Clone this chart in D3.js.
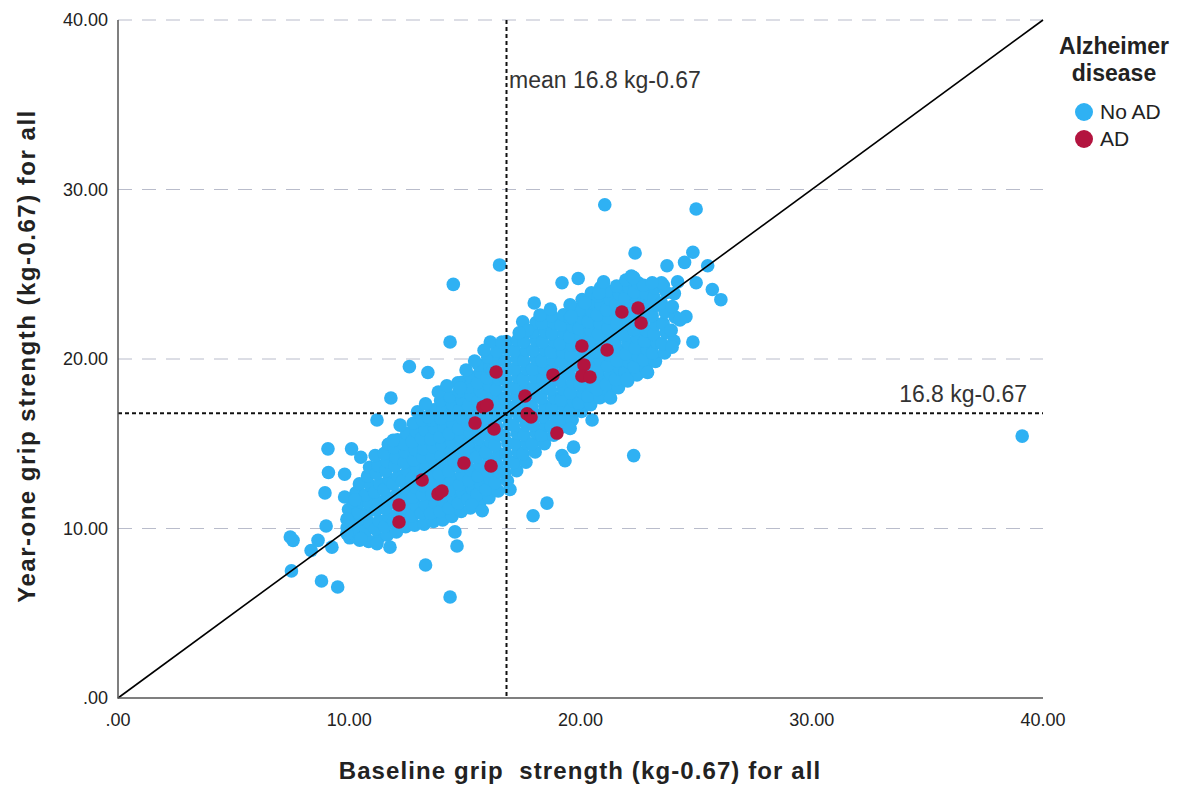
<!DOCTYPE html>
<html>
<head>
<meta charset="utf-8">
<script src="https://cdn.jsdelivr.net/npm/d3@7.9.0/dist/d3.min.js"></script>
<style>
  body { margin: 0; background: #fff; }
  svg { font-family: "Liberation Sans", Arial, sans-serif; }
</style>
</head>
<body>
<svg id="chart" width="1194" height="785"></svg>
<script>
// Tick values and labels
const ticks = [0, 10, 20, 30, 40];
const tickLabels = ['.00', '10.00', '20.00', '30.00', '40.00'];
const meanValue = 16.8;

// No AD participants [baseline, year-one]
const noAdOutliers = [
  [39.1, 15.45], [21.05, 29.1], [25.0, 28.85], [16.5, 25.55], [14.5, 24.4], [22.36, 26.25],
  [24.86, 26.3], [23.74, 25.5], [24.5, 25.7], [25.5, 25.5], [25.7, 24.1], [26.07, 23.5],
  [25.0, 24.5], [24.2, 24.55], [24.86, 21.0], [23.96, 20.7], [24.56, 22.5], [24.3, 22.3],
  [22.2, 24.9], [23.5, 24.5], [19.2, 24.5], [19.9, 24.75], [19.55, 23.2], [20.2, 23.3],
  [19.6, 22.5], [18.0, 23.3], [18.25, 22.6], [17.5, 22.2], [14.36, 21.0], [12.6, 19.55],
  [13.4, 19.2], [16.1, 21.0], [16.6, 21.0], [21.3, 17.7], [11.8, 17.7], [11.2, 16.4],
  [12.2, 16.1], [14.7, 18.6], [22.3, 14.3], [20.5, 16.4], [19.7, 14.8], [19.2, 14.3],
  [19.55, 15.9], [22.9, 19.2], [22.0, 18.8], [18.55, 11.5], [17.95, 10.75], [14.57, 9.8],
  [14.66, 8.97], [13.3, 7.85], [14.36, 5.96], [8.8, 6.9], [9.5, 6.55], [7.5, 7.5],
  [7.57, 9.3], [7.45, 9.5], [8.35, 8.7], [8.65, 9.3], [9.25, 8.9], [9.0, 10.15],
  [9.9, 10.55], [9.9, 9.7], [10.5, 9.4], [11.2, 9.1], [11.76, 8.9], [9.08, 14.7],
  [10.1, 14.7], [9.1, 13.3], [9.8, 13.2], [8.95, 12.1], [9.8, 11.86], [10.25, 11.7],
  [15.3, 11.4], [19.33, 14.0], [17.7, 21.7], [20.8, 23.9], [22.3, 24.8], [23.1, 24.5],
  [16.2, 19.3], [14.8, 18.3], [13.4, 16.6], [11.9, 15.2], [10.5, 14.2],
  [13.85, 18.05], [14.22, 18.42], [15.05, 19.35], [15.42, 19.88], [15.83, 20.52], [12.95, 16.88],
  [13.3, 17.35], [17.35, 21.55], [18.7, 22.95], [21.0, 24.55], [16.95, 12.3], [15.75, 11.05]
];

const noAdLow = [
  [10.02, 9.45], [9.91, 10.06], [10.11, 10.51], [9.97, 11.12], [10.16, 11.58],
  [10.45, 9.31], [10.33, 9.82], [10.51, 10.49], [10.38, 10.93], [10.47, 11.57], [10.29, 12.11], [10.44, 12.63],
  [10.84, 9.24], [10.72, 9.88], [10.91, 10.31], [10.77, 10.92], [10.86, 11.47], [10.7, 11.98], [10.93, 12.52], [10.79, 13.09], [10.88, 13.61],
  [11.25, 9.39], [11.13, 9.97], [11.3, 10.44], [11.16, 11.08], [11.27, 11.57], [11.1, 12.14], [11.32, 12.62], [11.18, 13.25], [11.24, 13.72], [11.12, 14.31],
  [11.64, 9.61], [11.53, 10.12], [11.7, 10.73], [11.57, 11.19], [11.66, 11.82], [11.5, 12.29], [11.72, 12.91], [11.58, 13.41], [11.63, 13.96], [11.52, 14.43], [11.69, 14.97],
  [12.04, 9.79], [11.92, 10.41], [12.1, 10.9], [11.97, 11.51], [12.06, 12.0], [11.9, 12.62], [12.12, 13.09], [11.98, 13.71], [12.03, 14.19], [11.93, 14.78], [12.09, 15.24],
  [12.44, 10.11], [12.32, 10.6], [12.5, 11.21], [12.37, 11.69], [12.46, 12.31], [12.3, 12.8], [12.52, 13.41], [12.38, 13.89], [12.43, 14.51], [12.33, 15.0], [12.49, 15.61],
  [12.83, 10.2], [12.71, 10.74], [12.9, 11.35], [12.76, 11.84], [12.86, 12.46], [12.7, 12.95], [12.92, 13.56], [12.78, 14.04], [12.84, 14.67], [12.73, 15.14], [12.89, 15.76], [12.77, 16.21],
  [13.24, 10.25], [13.12, 10.9], [13.3, 11.39], [13.17, 12.01], [13.26, 12.49], [13.1, 13.12], [13.32, 13.6], [13.18, 14.21], [13.23, 14.69], [13.13, 15.32], [13.29, 15.8], [13.16, 16.41],
  [13.64, 10.41], [13.52, 10.9], [13.7, 11.52], [13.57, 12.0], [13.66, 12.62], [13.5, 13.09], [13.72, 13.71], [13.58, 14.2], [13.63, 14.82], [13.53, 15.29], [13.69, 15.92], [13.56, 16.39], [13.67, 17.01]
];

const noAdMid = [
  [14.04, 10.5], [13.92, 11.0], [14.1, 11.62], [13.97, 12.1], [14.06, 12.71], [13.9, 13.19], [14.12, 13.81], [13.98, 14.29], [14.03, 14.92], [13.93, 15.4], [14.09, 16.01], [13.96, 16.49], [14.07, 17.12], [13.95, 17.55],
  [14.44, 10.71], [14.32, 11.2], [14.5, 11.81], [14.37, 12.29], [14.46, 12.92], [14.3, 13.39], [14.52, 14.01], [14.38, 14.5], [14.43, 15.11], [14.33, 15.59], [14.49, 16.21], [14.36, 16.69], [14.47, 17.31], [14.35, 17.79],
  [14.84, 11.0], [14.72, 11.49], [14.9, 12.11], [14.77, 12.59], [14.86, 13.21], [14.7, 13.69], [14.92, 14.31], [14.78, 14.79], [14.83, 15.41], [14.73, 15.89], [14.89, 16.51], [14.76, 16.99], [14.87, 17.61], [14.75, 18.09], [14.88, 18.63],
  [15.24, 11.21], [15.12, 11.74], [15.3, 12.36], [15.17, 12.84], [15.26, 13.46], [15.1, 13.94], [15.32, 14.56], [15.18, 15.04], [15.23, 15.66], [15.13, 16.14], [15.29, 16.76], [15.16, 17.24], [15.27, 17.86], [15.15, 18.34], [15.28, 18.95],
  [15.64, 11.51], [15.52, 12.0], [15.7, 12.62], [15.57, 13.1], [15.66, 13.72], [15.5, 14.2], [15.72, 14.82], [15.58, 15.3], [15.63, 15.92], [15.53, 16.4], [15.69, 17.02], [15.56, 17.5], [15.67, 18.12], [15.55, 18.6], [15.68, 19.22], [15.6, 19.65],
  [16.04, 11.81], [15.92, 12.3], [16.1, 12.92], [15.97, 13.4], [16.06, 14.02], [15.9, 14.5], [16.12, 15.12], [15.98, 15.6], [16.03, 16.22], [15.93, 16.7], [16.09, 17.32], [15.96, 17.8], [16.07, 18.42], [15.95, 18.9], [16.08, 19.52], [15.99, 20.11],
  [16.44, 12.21], [16.32, 12.7], [16.5, 13.32], [16.37, 13.8], [16.46, 14.42], [16.3, 14.9], [16.52, 15.52], [16.38, 16.0], [16.43, 16.62], [16.33, 17.1], [16.49, 17.72], [16.36, 18.2], [16.47, 18.82], [16.35, 19.3], [16.48, 19.92], [16.39, 20.46],
  [16.84, 12.81], [16.72, 13.3], [16.9, 13.92], [16.77, 14.4], [16.86, 15.02], [16.7, 15.5], [16.92, 16.12], [16.78, 16.6], [16.83, 17.22], [16.73, 17.7], [16.89, 18.32], [16.76, 18.8], [16.87, 19.42], [16.75, 19.9], [16.88, 20.52], [16.79, 21.03],
  [17.24, 13.41], [17.12, 13.9], [17.3, 14.52], [17.17, 15.0], [17.26, 15.62], [17.1, 16.1], [17.32, 16.72], [17.18, 17.2], [17.23, 17.82], [17.13, 18.3], [17.29, 18.92], [17.16, 19.4], [17.27, 20.02], [17.15, 20.5], [17.28, 21.11],
  [17.64, 13.91], [17.52, 14.4], [17.7, 15.02], [17.57, 15.5], [17.66, 16.12], [17.5, 16.6], [17.72, 17.22], [17.58, 17.7], [17.63, 18.32], [17.53, 18.8], [17.69, 19.42], [17.56, 19.9], [17.67, 20.52], [17.55, 21.0], [17.68, 21.61],
  [18.04, 14.51], [17.92, 15.0], [18.1, 15.62], [17.97, 16.1], [18.06, 16.72], [17.9, 17.2], [18.12, 17.82], [17.98, 18.3], [18.03, 18.92], [17.93, 19.4], [18.09, 20.02], [17.96, 20.5], [18.07, 21.12], [17.95, 21.6], [18.08, 22.15],
  [18.44, 15.01], [18.32, 15.5], [18.5, 16.12], [18.37, 16.6], [18.46, 17.22], [18.3, 17.7], [18.52, 18.32], [18.38, 18.8], [18.43, 19.42], [18.33, 19.9], [18.49, 20.52], [18.36, 21.0], [18.47, 21.62], [18.35, 22.13],
  [18.84, 15.51], [18.72, 16.0], [18.9, 16.62], [18.77, 17.1], [18.86, 17.72], [18.7, 18.2], [18.92, 18.82], [18.78, 19.3], [18.83, 19.92], [18.73, 20.4], [18.89, 21.02], [18.76, 21.5], [18.87, 22.12], [18.75, 22.55]
];

const noAdHigh = [
  [19.24, 16.01], [19.12, 16.5], [19.3, 17.12], [19.17, 17.6], [19.26, 18.22], [19.1, 18.7], [19.32, 19.32], [19.18, 19.8], [19.23, 20.42], [19.13, 20.9], [19.29, 21.52], [19.16, 22.0], [19.27, 22.61],
  [19.64, 16.41], [19.52, 16.9], [19.7, 17.52], [19.57, 18.0], [19.66, 18.62], [19.5, 19.1], [19.72, 19.72], [19.58, 20.2], [19.63, 20.82], [19.53, 21.3], [19.69, 21.92], [19.56, 22.4], [19.67, 23.01],
  [20.04, 16.91], [19.92, 17.4], [20.1, 18.02], [19.97, 18.5], [20.06, 19.12], [19.9, 19.6], [20.12, 20.22], [19.98, 20.7], [20.03, 21.32], [19.93, 21.8], [20.09, 22.42], [19.96, 22.9], [20.07, 23.51],
  [20.44, 17.31], [20.32, 17.8], [20.5, 18.42], [20.37, 18.9], [20.46, 19.52], [20.3, 20.0], [20.52, 20.62], [20.38, 21.1], [20.43, 21.72], [20.33, 22.2], [20.49, 22.82], [20.36, 23.3], [20.47, 23.91],
  [20.84, 17.71], [20.72, 18.2], [20.9, 18.82], [20.77, 19.3], [20.86, 19.92], [20.7, 20.4], [20.92, 21.02], [20.78, 21.5], [20.83, 22.12], [20.73, 22.6], [20.89, 23.22], [20.76, 23.7], [20.87, 24.21],
  [21.24, 18.01], [21.12, 18.5], [21.3, 19.12], [21.17, 19.6], [21.26, 20.22], [21.1, 20.7], [21.32, 21.32], [21.18, 21.8], [21.23, 22.42], [21.13, 22.9], [21.29, 23.52], [21.16, 24.0],
  [21.64, 18.31], [21.52, 18.8], [21.7, 19.42], [21.57, 19.9], [21.66, 20.52], [21.5, 21.0], [21.72, 21.62], [21.58, 22.1], [21.63, 22.72], [21.53, 23.2], [21.69, 23.82], [21.56, 24.3],
  [22.04, 18.71], [21.92, 19.2], [22.1, 19.82], [21.97, 20.3], [22.06, 20.92], [21.9, 21.4], [22.12, 22.02], [21.98, 22.5], [22.03, 23.12], [21.93, 23.6], [22.09, 24.22], [21.96, 24.66],
  [22.44, 19.06], [22.32, 19.55], [22.5, 20.17], [22.37, 20.65], [22.46, 21.27], [22.3, 21.75], [22.52, 22.37], [22.38, 22.85], [22.43, 23.47], [22.33, 23.95], [22.49, 24.5],
  [22.84, 19.46], [22.72, 19.95], [22.9, 20.57], [22.77, 21.05], [22.86, 21.67], [22.7, 22.15], [22.92, 22.77], [22.78, 23.25], [22.83, 23.87], [22.73, 24.35],
  [23.24, 19.86], [23.12, 20.35], [23.3, 20.97], [23.17, 21.45], [23.26, 22.07], [23.1, 22.55], [23.32, 23.17], [23.18, 23.65], [23.23, 24.2],
  [23.64, 20.36], [23.52, 20.9], [23.7, 21.57], [23.57, 22.1], [23.66, 22.77], [23.5, 23.3], [23.72, 23.92], [23.58, 24.35],
  [24.04, 21.06], [23.92, 21.7], [24.1, 22.47], [23.97, 23.1], [24.06, 23.86]
];

// AD participants [baseline, year-one]
const adPoints = [
  [12.15, 11.39], [12.15, 10.38], [13.15, 12.86], [13.84, 12.04], [14.01, 12.21], [14.96, 13.86],
  [16.13, 13.69], [15.44, 16.22], [16.26, 15.87], [15.78, 17.17], [15.96, 17.29], [16.35, 19.23],
  [17.6, 17.82], [17.69, 16.76], [17.86, 16.58], [18.98, 15.63], [18.81, 19.06], [20.06, 20.77],
  [21.15, 20.53], [20.15, 19.65], [20.06, 19.0], [20.41, 18.94], [21.79, 22.77], [22.49, 23.01],
  [22.62, 22.12]
];

const legendItems = [
  { label: 'No AD', color: '#2fb1f3' },
  { label: 'AD', color: '#b3143f' }
];

const svg = d3.select('#chart');
const plotLeft = 118, plotRight = 1043, plotTop = 20, plotBottom = 698;
const dotRadius = 6.8;

const x = d3.scaleLinear().domain([0, 40]).range([plotLeft, plotRight]);
const y = d3.scaleLinear().domain([0, 40]).range([plotBottom, plotTop]);

// Dashed reference gridlines
svg.append('g')
  .selectAll('line')
  .data(ticks.slice(1))
  .join('line')
  .attr('x1', plotLeft)
  .attr('x2', plotRight)
  .attr('y1', d => y(d))
  .attr('y2', d => y(d))
  .attr('stroke', '#b9bccb')
  .attr('stroke-width', 1)
  .attr('stroke-dasharray', '14,10');

// Points
const blue = legendItems[0].color, red = legendItems[1].color;
const allNoAd = [...noAdLow, ...noAdMid, ...noAdHigh, ...noAdOutliers];

svg.append('g')
  .selectAll('circle')
  .data(allNoAd)
  .join('circle')
  .attr('cx', d => x(d[0]))
  .attr('cy', d => y(d[1]))
  .attr('r', dotRadius)
  .attr('fill', blue);

svg.append('g')
  .selectAll('circle')
  .data(adPoints)
  .join('circle')
  .attr('cx', d => x(d[0]))
  .attr('cy', d => y(d[1]))
  .attr('r', dotRadius)
  .attr('fill', red);

// Mean lines
svg.append('line')
  .attr('x1', x(meanValue)).attr('x2', x(meanValue))
  .attr('y1', plotTop).attr('y2', plotBottom)
  .attr('stroke', '#111').attr('stroke-width', 2)
  .attr('stroke-dasharray', '4,3');

svg.append('line')
  .attr('x1', plotLeft).attr('x2', plotRight)
  .attr('y1', y(meanValue)).attr('y2', y(meanValue))
  .attr('stroke', '#111').attr('stroke-width', 2)
  .attr('stroke-dasharray', '4,3');

// Identity line
svg.append('line')
  .attr('x1', x(0)).attr('y1', y(0))
  .attr('x2', x(40)).attr('y2', y(40))
  .attr('stroke', '#000').attr('stroke-width', 1.6);

// Axis frame
svg.append('path')
  .attr('d', `M${plotLeft},${plotTop}V${plotBottom}H${plotRight}`)
  .attr('fill', 'none')
  .attr('stroke', '#555')
  .attr('stroke-width', 1.5);

// Tick labels
svg.append('g')
  .selectAll('text')
  .data(ticks)
  .join('text')
  .attr('x', plotLeft - 10)
  .attr('y', d => y(d) + 6)
  .attr('text-anchor', 'end')
  .attr('font-size', 18)
  .attr('fill', '#222')
  .text((d, i) => tickLabels[i]);

svg.append('g')
  .selectAll('text')
  .data(ticks)
  .join('text')
  .attr('x', d => x(d))
  .attr('y', plotBottom + 28)
  .attr('text-anchor', 'middle')
  .attr('font-size', 18)
  .attr('fill', '#222')
  .text((d, i) => tickLabels[i]);

// Axis titles
svg.append('text')
  .attr('x', 580)
  .attr('y', 779)
  .attr('text-anchor', 'middle')
  .attr('font-size', 24)
  .attr('font-weight', 'bold')
  .attr('letter-spacing', 1.1)
  .attr('fill', '#222')
  .style('white-space', 'pre')
  .text('Baseline grip  strength (kg-0.67) for all');

svg.append('text')
  .attr('transform', 'translate(35,356) rotate(-90)')
  .attr('text-anchor', 'middle')
  .attr('font-size', 24)
  .attr('font-weight', 'bold')
  .attr('letter-spacing', 1.5)
  .attr('fill', '#222')
  .text('Year-one grip strength (kg-0.67) for all');

// Mean annotations
svg.append('text')
  .attr('x', 509)
  .attr('y', 88)
  .attr('font-size', 23)
  .attr('fill', '#333')
  .text(`mean ${meanValue} kg-0.67`);

svg.append('text')
  .attr('x', 1027)
  .attr('y', y(meanValue) - 11)
  .attr('text-anchor', 'end')
  .attr('font-size', 23)
  .attr('fill', '#333')
  .text(`${meanValue} kg-0.67`);

// Legend
const legend = svg.append('g');
legend.append('text')
  .attr('x', 1114).attr('y', 54)
  .attr('text-anchor', 'middle')
  .attr('font-size', 23).attr('font-weight', 'bold').attr('fill', '#222')
  .text('Alzheimer');
legend.append('text')
  .attr('x', 1114).attr('y', 81)
  .attr('text-anchor', 'middle')
  .attr('font-size', 23).attr('font-weight', 'bold').attr('fill', '#222')
  .text('disease');

const items = legend.selectAll('g.item')
  .data(legendItems)
  .join('g')
  .attr('class', 'item')
  .attr('transform', (d, i) => `translate(1084,${112 + i * 27})`);
items.append('circle').attr('r', 9).attr('fill', d => d.color);
items.append('text')
  .attr('x', 16).attr('y', 7)
  .attr('font-size', 21).attr('fill', '#222')
  .text(d => d.label);
</script>
</body>
</html>
